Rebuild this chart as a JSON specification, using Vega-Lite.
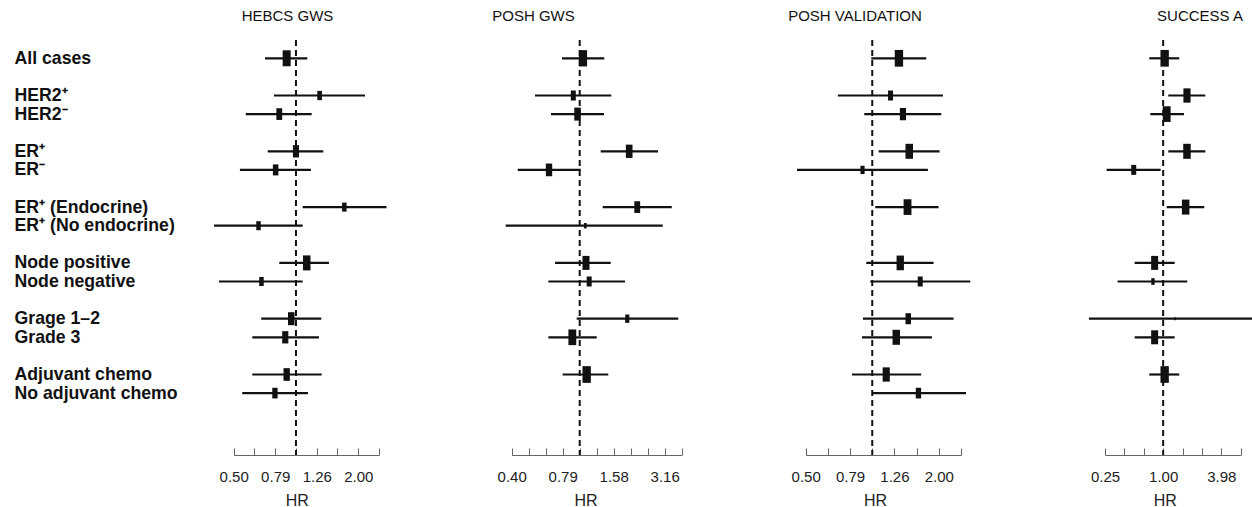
{
  "$schema": "https://vega.github.io/schema/vega-lite/v6.json",
  "padding": {"left": 14, "top": 9, "right": 0, "bottom": 0},
  "background": "white",
  "spacing": 0,
  "bounds": "flush",
  "config": {
    "view": {"stroke": null},
    "font": "Liberation Sans",
    "scale": {"pointPadding": 0},
    "axisX": {
      "domainColor": "#666", "tickColor": "#666", "tickSize": -7, "grid": false,
      "domainWidth": 1, "tickWidth": 1,
      "labelFontSize": 15, "labelColor": "#222", "labelPadding": 33, "labelBaseline": "alphabetic",
      "labelFlush": false, "labelOverlap": false,
      "titleFontSize": 16, "titleFontWeight": "normal", "titleColor": "#222",
      "titleY": 50, "titleBaseline": "alphabetic"
    },
    "title": {"fontSize": 15, "fontWeight": "normal", "color": "#111", "baseline": "alphabetic", "offset": 15, "frame": "group", "anchor": "middle"}
  },
  "datasets": {
    "hebcs": [
      {"group": "All cases", "hr": 0.902, "lo": 0.709, "hi": 1.134, "w": 2.56},
      {"group": "HER2⁺", "hr": 1.30, "lo": 0.783, "hi": 2.15, "w": 0.86},
      {"group": "HER2⁻", "hr": 0.831, "lo": 0.573, "hi": 1.19, "w": 1.37},
      {"group": "ER⁺", "hr": 1.0, "lo": 0.731, "hi": 1.354, "w": 1.51},
      {"group": "ER⁻", "hr": 0.798, "lo": 0.537, "hi": 1.18, "w": 1.21},
      {"group": "ER⁺ (Endocrine)", "hr": 1.71, "lo": 1.077, "hi": 2.73, "w": 0.81},
      {"group": "ER⁺ (No endocrine)", "hr": 0.66, "lo": 0.403, "hi": 1.077, "w": 0.81},
      {"group": "Node positive", "hr": 1.127, "lo": 0.831, "hi": 1.442, "w": 2.25},
      {"group": "Node negative", "hr": 0.682, "lo": 0.426, "hi": 1.077, "w": 0.81},
      {"group": "Grage 1–2", "hr": 0.949, "lo": 0.68, "hi": 1.324, "w": 1.69},
      {"group": "Grade 3", "hr": 0.888, "lo": 0.616, "hi": 1.29, "w": 1.51},
      {"group": "Adjuvant chemo", "hr": 0.902, "lo": 0.616, "hi": 1.33, "w": 1.61},
      {"group": "No adjuvant chemo", "hr": 0.792, "lo": 0.551, "hi": 1.142, "w": 1.14}
    ],
    "poshgws": [
      {"group": "All cases", "hr": 1.046, "lo": 0.787, "hi": 1.395, "w": 2.66},
      {"group": "HER2⁺", "hr": 0.917, "lo": 0.546, "hi": 1.534, "w": 1.0},
      {"group": "HER2⁻", "hr": 0.971, "lo": 0.678, "hi": 1.39, "w": 1.69},
      {"group": "ER⁺", "hr": 1.955, "lo": 1.329, "hi": 2.888, "w": 1.77},
      {"group": "ER⁻", "hr": 0.66, "lo": 0.432, "hi": 1.014, "w": 1.61},
      {"group": "ER⁺ (Endocrine)", "hr": 2.18, "lo": 1.366, "hi": 3.48, "w": 1.37},
      {"group": "ER⁺ (No endocrine)", "hr": 1.079, "lo": 0.367, "hi": 3.08, "w": 0.29},
      {"group": "Node positive", "hr": 1.089, "lo": 0.716, "hi": 1.522, "w": 1.96},
      {"group": "Node negative", "hr": 1.137, "lo": 0.654, "hi": 1.847, "w": 1.0},
      {"group": "Grage 1–2", "hr": 1.905, "lo": 0.96, "hi": 3.80, "w": 0.69},
      {"group": "Grade 3", "hr": 0.905, "lo": 0.654, "hi": 1.259, "w": 2.46},
      {"group": "Adjuvant chemo", "hr": 1.099, "lo": 0.794, "hi": 1.473, "w": 2.79}
    ],
    "poshval": [
      {"group": "All cases", "hr": 1.319, "lo": 0.99, "hi": 1.751, "w": 2.79},
      {"group": "HER2⁺", "hr": 1.209, "lo": 0.70, "hi": 2.083, "w": 1.0},
      {"group": "HER2⁻", "hr": 1.375, "lo": 0.92, "hi": 2.046, "w": 1.51},
      {"group": "ER⁺", "hr": 1.468, "lo": 1.068, "hi": 2.011, "w": 2.25},
      {"group": "ER⁻", "hr": 0.904, "lo": 0.458, "hi": 1.782, "w": 0.69},
      {"group": "ER⁺ (Endocrine)", "hr": 1.442, "lo": 1.032, "hi": 1.99, "w": 2.46},
      {"group": "Node positive", "hr": 1.337, "lo": 0.94, "hi": 1.889, "w": 2.16},
      {"group": "Node negative", "hr": 1.645, "lo": 0.98, "hi": 2.765, "w": 1.0},
      {"group": "Grage 1–2", "hr": 1.453, "lo": 0.908, "hi": 2.325, "w": 1.21},
      {"group": "Grade 3", "hr": 1.283, "lo": 0.899, "hi": 1.858, "w": 2.25},
      {"group": "Adjuvant chemo", "hr": 1.156, "lo": 0.81, "hi": 1.663, "w": 2.04},
      {"group": "No adjuvant chemo", "hr": 1.615, "lo": 1.007, "hi": 2.645, "w": 1.14}
    ],
    "success": [
      {"group": "All cases", "hr": 1.036, "lo": 0.719, "hi": 1.466, "w": 2.79},
      {"group": "HER2⁺", "hr": 1.761, "lo": 1.129, "hi": 2.72, "w": 2.04},
      {"group": "HER2⁻", "hr": 1.087, "lo": 0.736, "hi": 1.639, "w": 2.46},
      {"group": "ER⁺", "hr": 1.761, "lo": 1.129, "hi": 2.72, "w": 2.25},
      {"group": "ER⁻", "hr": 0.497, "lo": 0.261, "hi": 0.942, "w": 1.0},
      {"group": "ER⁺ (Endocrine)", "hr": 1.707, "lo": 1.087, "hi": 2.656, "w": 2.25},
      {"group": "Node positive", "hr": 0.817, "lo": 0.508, "hi": 1.314, "w": 1.96},
      {"group": "Node negative", "hr": 0.785, "lo": 0.339, "hi": 1.773, "w": 0.45},
      {"group": "Grage 1–2", "hr": 1.324, "lo": 0.1715, "hi": 10.2, "w": 0.09},
      {"group": "Grade 3", "hr": 0.817, "lo": 0.508, "hi": 1.314, "w": 1.96},
      {"group": "Adjuvant chemo", "hr": 1.036, "lo": 0.719, "hi": 1.466, "w": 2.79}
    ]
  },
  "hconcat": [
    {
      "width": 289, "height": 415,
      "title": {"text": "HEBCS GWS", "dx": -9},
      "data": {"name": "hebcs"},
      "layer": [
        {
          "data": {"values": [{"ref": 1}]},
          "mark": {"type": "rule", "strokeDash": [6, 4], "strokeWidth": 2, "color": "#111"},
          "encoding": {
            "x": {"field": "ref", "type": "quantitative", "title": "HR",
              "scale": {"type": "log", "domain": [0.50119, 2.51189], "range": [81.7, 227], "nice": false, "zero": false},
              "axis": {"values": [0.50119, 0.63096, 0.79433, 1, 1.25893, 1.58489, 1.99526, 2.51189],
                "labelExpr": "indexof([0.50119, 0.79433, 1.25893, 1.99526], datum.value) >= 0 ? format(datum.value, '.2f') : ''",
                "titleX": 144.7}
            }
          }
        },
        {
          "mark": {"type": "rule", "strokeWidth": 2.2, "color": "#111"},
          "encoding": {
            "y": {"field": "group", "type": "nominal", "title": null,
              "scale": {"type": "point", "padding": 0, "domain": ["All cases", " ", "HER2⁺", "HER2⁻", "  ", "ER⁺", "ER⁻", "   ", "ER⁺ (Endocrine)", "ER⁺ (No endocrine)", "    ", "Node positive", "Node negative", "     ", "Grage 1–2", "Grade 3", "      ", "Adjuvant chemo", "No adjuvant chemo"], "range": [18.3, 353.1]},
              "axis": {"orient": "left", "domain": false, "ticks": false, "labelAlign": "left", "labelPadding": 138, "labelFontSize": 17.7, "labelFontWeight": "bold", "labelColor": "#111", "labelLimit": 400, "labelBaseline": "middle"}},
            "x": {"field": "lo", "type": "quantitative", "title": "HR"},
            "x2": {"field": "hi"}
          }
        },
        {
          "mark": {"type": "point", "shape": "M-0.5,-1H0.5V1H-0.5Z", "filled": true, "opacity": 1, "color": "#111", "strokeWidth": 0},
          "encoding": {
            "y": {"field": "group", "type": "nominal", "title": null},
            "x": {"field": "hr", "type": "quantitative", "title": "HR"},
            "size": {"field": "w", "type": "quantitative", "scale": {"type": "linear", "domain": [0, 3], "range": [0, 300], "zero": true}, "legend": null}
          }
        }
      ]
    },
    {
      "width": 289, "height": 415,
      "title": {"text": "POSH GWS", "dx": -52},
      "data": {"name": "poshgws"},
      "layer": [
        {
          "data": {"values": [{"ref": 1}]},
          "mark": {"type": "rule", "strokeDash": [6, 4], "strokeWidth": 2, "color": "#111"},
          "encoding": {
            "x": {"field": "ref", "type": "quantitative", "title": "HR",
              "scale": {"type": "log", "domain": [0.39811, 3.98107], "range": [70.7, 240.7], "nice": false, "zero": false},
              "axis": {"values": [0.39811, 0.50119, 0.63096, 0.79433, 1, 1.25893, 1.58489, 1.99526, 2.51189, 3.16228, 3.98107],
                "labelExpr": "indexof([0.39811, 0.79433, 1.58489, 3.16228], datum.value) >= 0 ? format(datum.value, '.2f') : ''",
                "titleX": 144.5}
            }
          }
        },
        {
          "mark": {"type": "rule", "strokeWidth": 2.2, "color": "#111"},
          "encoding": {
            "y": {"field": "group", "type": "nominal", "title": null,
              "scale": {"type": "point", "padding": 0, "domain": ["All cases", " ", "HER2⁺", "HER2⁻", "  ", "ER⁺", "ER⁻", "   ", "ER⁺ (Endocrine)", "ER⁺ (No endocrine)", "    ", "Node positive", "Node negative", "     ", "Grage 1–2", "Grade 3", "      ", "Adjuvant chemo", "No adjuvant chemo"], "range": [18.3, 353.1]},
              "axis": null},
            "x": {"field": "lo", "type": "quantitative", "title": "HR"},
            "x2": {"field": "hi"}
          }
        },
        {
          "mark": {"type": "point", "shape": "M-0.5,-1H0.5V1H-0.5Z", "filled": true, "opacity": 1, "color": "#111", "strokeWidth": 0},
          "encoding": {
            "y": {"field": "group", "type": "nominal", "title": null},
            "x": {"field": "hr", "type": "quantitative", "title": "HR"},
            "size": {"field": "w", "type": "quantitative", "scale": {"type": "linear", "domain": [0, 3], "range": [0, 300], "zero": true}, "legend": null}
          }
        }
      ]
    },
    {
      "width": 290, "height": 415,
      "title": {"text": "POSH VALIDATION", "dx": -20},
      "data": {"name": "poshval"},
      "layer": [
        {
          "data": {"values": [{"ref": 1}]},
          "mark": {"type": "rule", "strokeDash": [6, 4], "strokeWidth": 2, "color": "#111"},
          "encoding": {
            "x": {"field": "ref", "type": "quantitative", "title": "HR",
              "scale": {"type": "log", "domain": [0.50119, 2.51189], "range": [75.7, 231], "nice": false, "zero": false},
              "axis": {"values": [0.50119, 0.63096, 0.79433, 1, 1.25893, 1.58489, 1.99526, 2.51189],
                "labelExpr": "indexof([0.50119, 0.79433, 1.25893, 1.99526], datum.value) >= 0 ? format(datum.value, '.2f') : ''",
                "titleX": 145}
            }
          }
        },
        {
          "mark": {"type": "rule", "strokeWidth": 2.2, "color": "#111"},
          "encoding": {
            "y": {"field": "group", "type": "nominal", "title": null,
              "scale": {"type": "point", "padding": 0, "domain": ["All cases", " ", "HER2⁺", "HER2⁻", "  ", "ER⁺", "ER⁻", "   ", "ER⁺ (Endocrine)", "ER⁺ (No endocrine)", "    ", "Node positive", "Node negative", "     ", "Grage 1–2", "Grade 3", "      ", "Adjuvant chemo", "No adjuvant chemo"], "range": [18.3, 353.1]},
              "axis": null},
            "x": {"field": "lo", "type": "quantitative", "title": "HR"},
            "x2": {"field": "hi"}
          }
        },
        {
          "mark": {"type": "point", "shape": "M-0.5,-1H0.5V1H-0.5Z", "filled": true, "opacity": 1, "color": "#111", "strokeWidth": 0},
          "encoding": {
            "y": {"field": "group", "type": "nominal", "title": null},
            "x": {"field": "hr", "type": "quantitative", "title": "HR"},
            "size": {"field": "w", "type": "quantitative", "scale": {"type": "linear", "domain": [0, 3], "range": [0, 300], "zero": true}, "legend": null}
          }
        }
      ]
    },
    {
      "width": 232, "height": 415,
      "title": {"text": "SUCCESS A", "dx": 64},
      "data": {"name": "success"},
      "layer": [
        {
          "data": {"values": [{"ref": 1}]},
          "mark": {"type": "rule", "strokeDash": [6, 4], "strokeWidth": 2, "color": "#111"},
          "encoding": {
            "x": {"field": "ref", "type": "quantitative", "title": "HR",
              "scale": {"type": "log", "domain": [0.25119, 6.30957], "range": [85, 220.7], "nice": false, "zero": false},
              "axis": {"values": [0.25119, 0.39811, 0.63096, 1, 1.58489, 2.51189, 3.98107, 6.30957],
                "labelExpr": "indexof([0.25119, 1, 3.98107], datum.value) >= 0 ? format(datum.value, '.2f') : ''",
                "titleX": 144.7}
            }
          }
        },
        {
          "mark": {"type": "rule", "strokeWidth": 2.2, "color": "#111"},
          "encoding": {
            "y": {"field": "group", "type": "nominal", "title": null,
              "scale": {"type": "point", "padding": 0, "domain": ["All cases", " ", "HER2⁺", "HER2⁻", "  ", "ER⁺", "ER⁻", "   ", "ER⁺ (Endocrine)", "ER⁺ (No endocrine)", "    ", "Node positive", "Node negative", "     ", "Grage 1–2", "Grade 3", "      ", "Adjuvant chemo", "No adjuvant chemo"], "range": [18.3, 353.1]},
              "axis": null},
            "x": {"field": "lo", "type": "quantitative", "title": "HR"},
            "x2": {"field": "hi"}
          }
        },
        {
          "mark": {"type": "point", "shape": "M-0.5,-1H0.5V1H-0.5Z", "filled": true, "opacity": 1, "color": "#111", "strokeWidth": 0},
          "encoding": {
            "y": {"field": "group", "type": "nominal", "title": null},
            "x": {"field": "hr", "type": "quantitative", "title": "HR"},
            "size": {"field": "w", "type": "quantitative", "scale": {"type": "linear", "domain": [0, 3], "range": [0, 300], "zero": true}, "legend": null}
          }
        }
      ]
    }
  ]
}
